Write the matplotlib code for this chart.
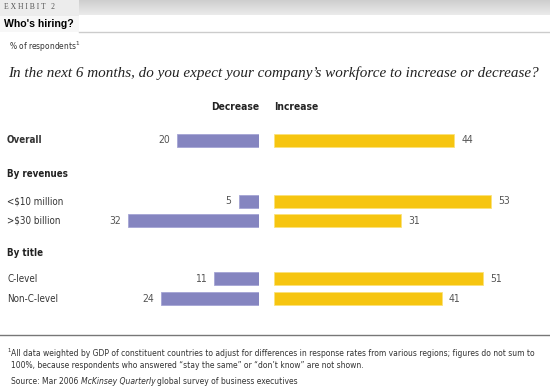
import matplotlib
matplotlib.use("Agg")
import matplotlib.pyplot as plt
from matplotlib import font_manager as fm
from matplotlib.patches import Rectangle
import numpy as np

categories = ["Overall", "<$10 million", ">$30 billion", "C-level", "Non-C-level"]
decrease = [20, 5, 32, 11, 24]
increase = [44, 53, 31, 51, 41]
groups = ["By revenues", "By title"]

PURPLE = "#8585C0"
YELLOW = "#F6C510"

# find a condensed sans font
def find_cond(weight="normal", style="normal"):
    cands = []
    for f in fm.fontManager.ttflist:
        n = f.name.lower()
        fn = f.fname.lower()
        isnarrow = ("narrow" in n or "condensed" in n or "condensed" in fn or "narrow" in fn)
        if not isnarrow:
            continue
        bold = (f.weight in ("bold", 700, "700", "heavy", "black") or
                (isinstance(f.weight, int) and f.weight >= 600))
        ital = f.style in ("italic", "oblique")
        score = 0
        if bold != (weight == "bold"):
            score += 10
        if ital != (style == "italic"):
            score += 10
        if "liberation" in n:
            score -= 2
        if "light" in fn or "extra" in fn:
            score += 5
        cands.append((score, f.fname))
    if not cands:
        return fm.FontProperties(family="DejaVu Sans", weight=weight, style=style, stretch="condensed")
    cands.sort()
    return fm.FontProperties(fname=cands[0][1])

FP = find_cond()
FPB = find_cond("bold")
FPI = find_cond(style="italic")

W, H = 550, 390
fig = plt.figure(figsize=(W / 100, H / 100), dpi=100)
ax = fig.add_axes([0, 0, 1, 1])
ax.set_xlim(0, W)
ax.set_ylim(H, 0)
ax.axis("off")

def tx(x, y, s, fp, size, **kw):
    p = fp.copy()
    p.set_size(size)
    return ax.text(x, y, s, fontproperties=p, va="center", **kw)

# header band
grad = np.linspace(0.80, 0.92, 50).reshape(-1, 1)
ax.imshow(grad, extent=(79, W, 15.5, 0), cmap="gray", vmin=0, vmax=1, aspect="auto", zorder=0)
ax.add_patch(Rectangle((0, 0), 79, 16, color="#ececec", zorder=0.5, lw=0))
ax.add_patch(Rectangle((0, 16), 79, 16, color="#f7f7f7", zorder=0.5, lw=0))
ax.plot([79, W], [31.5, 31.5], color="#cccccc", lw=1)
ax.plot([0, W], [335, 335], color="#777777", lw=1)

ax.text(4, 7, "E X H I B I T   2", fontsize=5.5, family="Liberation Serif", color="#555555", va="center")
ax.text(4, 24, "Who's hiring?", fontsize=7.6, weight="bold", family="Liberation Sans", va="center", color="black")
tx(9, 47, "% of respondents$^{1}$", FP, 6.0, color="#333333")
ax.text(8, 73, "In the next 6 months, do you expect your company\u2019s workforce to increase or decrease?",
        fontsize=10.9, style="italic", family="Liberation Serif", va="center", color="#222222")

tx(259, 107, "Decrease", FPB, 7.4, ha="right", color="#222222")
tx(274, 107, "Increase", FPB, 7.4, ha="left", color="#222222")

row_y = [140, 201, 220.7, 278.7, 298.7]
group_y = [174, 252.7]
LS = 7.0
for lab, y in zip(categories, row_y):
    tx(7, y, lab, FPB if lab == "Overall" else FP, LS, color="#333333")
for lab, y in zip(groups, group_y):
    tx(7, y, lab, FPB, LS, color="#222222")

PX = 4.1  # pixels per percentage point
l_left, l_right = 100, 259
axl = fig.add_axes([l_left / W, 0, (l_right - l_left) / W, 1])
axl.set_xlim((l_right - l_left) / PX, 0)
axl.set_ylim(H, 0)
axl.axis("off")
axl.barh(row_y, decrease, height=13, color=PURPLE, edgecolor="#a5a5d5", lw=0.6)
np_ = FP.copy(); np_.set_size(7.5)
for v, y in zip(decrease, row_y):
    axl.annotate(str(v), (v, y), xytext=(-5, 0), textcoords="offset points", ha="right", va="center",
                 fontproperties=np_, color="#555555")

r_left, r_right = 274, 540
axr = fig.add_axes([r_left / W, 0, (r_right - r_left) / W, 1])
axr.set_xlim(0, (r_right - r_left) / PX)
axr.set_ylim(H, 0)
axr.axis("off")
axr.barh(row_y, increase, height=13, color=YELLOW, edgecolor="#fbe27a", lw=0.6)
for v, y in zip(increase, row_y):
    axr.annotate(str(v), (v, y), xytext=(5, 0), textcoords="offset points", ha="left", va="center",
                 fontproperties=np_, color="#555555")

FS = 6.1
tx(7, 351, "1", FP, 4.3, color="#333333")
tx(11, 354, "All data weighted by GDP of constituent countries to adjust for differences in response rates from various regions; figures do not sum to",
   FP, FS, color="#333333")
tx(11, 366, "100%, because respondents who answered \u201cstay the same\u201d or \u201cdon\u2019t know\u201d are not shown.",
   FP, FS, color="#333333")
t = tx(11, 381, "Source: Mar 2006 ", FP, FS, color="#333333")
fig.canvas.draw()
bb = t.get_window_extent()
x1 = ax.transData.inverted().transform((bb.x1, bb.y0))[0]
t2 = tx(x1, 381, "McKinsey Quarterly", FPI, FS, color="#333333")
bb2 = t2.get_window_extent()
x2 = ax.transData.inverted().transform((bb2.x1, bb2.y0))[0]
tx(x2 + 1.5, 381, "global survey of business executives", FP, FS, color="#333333")

fig.savefig("out.png", dpi=100)
